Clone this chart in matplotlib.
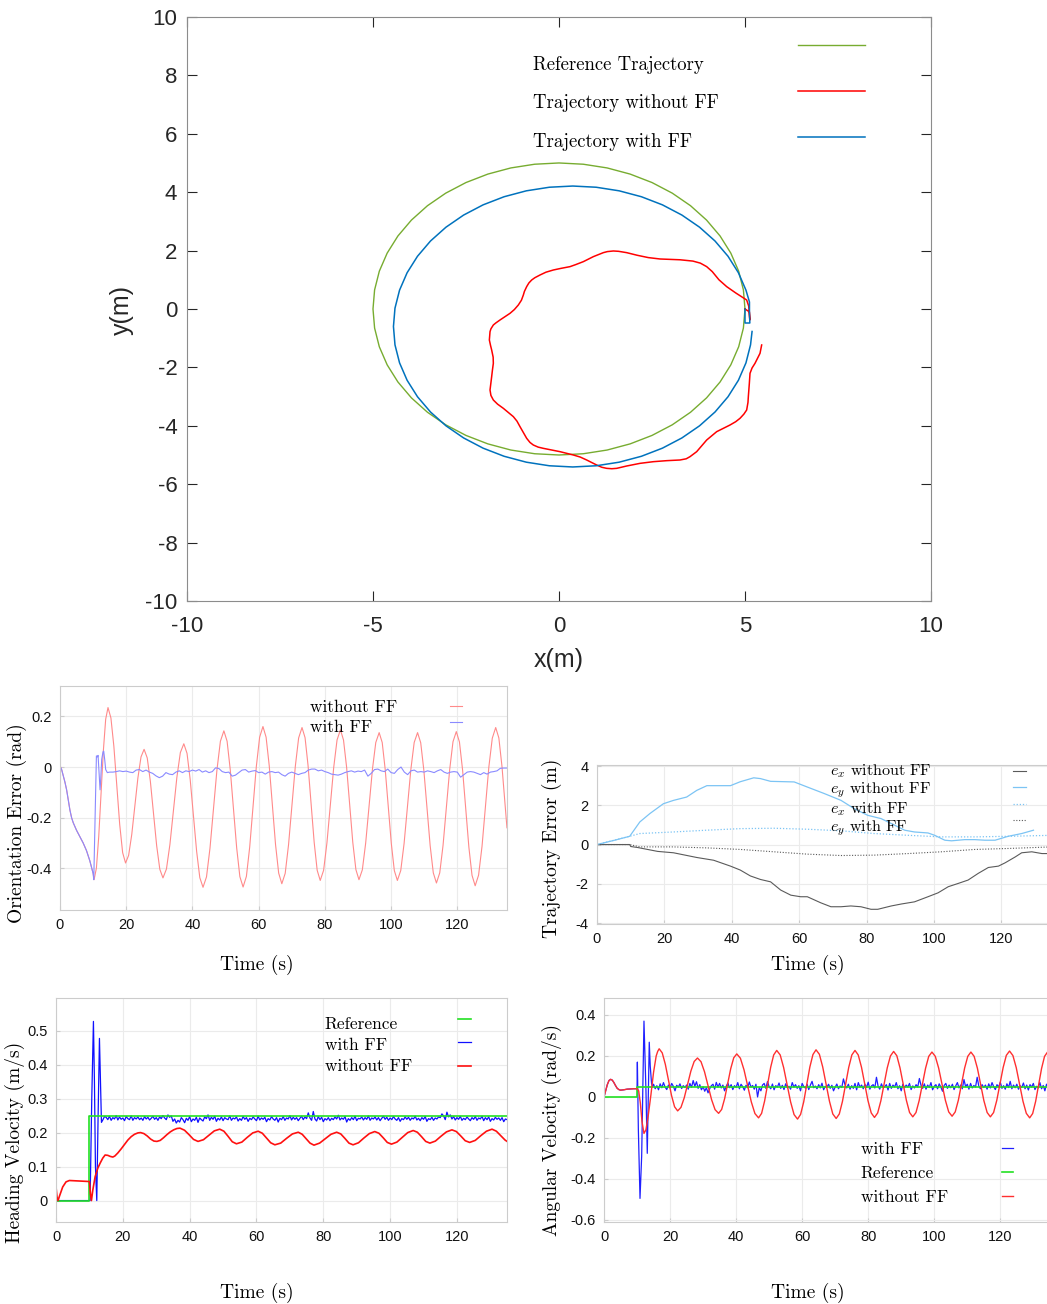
import numpy as np
import matplotlib
matplotlib.use("Agg")
import matplotlib.pyplot as plt

plt.rcParams["font.family"] = ["Liberation Sans", "DejaVu Sans"]
plt.rcParams["mathtext.fontset"] = "cm"
plt.rcParams["axes.unicode_minus"] = False

SERIF = "cmr10"

# ---------------- top: x-y trajectories (x, y) ----------------
ref_traj = [(5.0, 0.0), (4.957, 0.653), (4.83, 1.294), (4.619, 1.913), (4.33, 2.5), (3.967, 3.044),
            (3.536, 3.536), (3.044, 3.967), (2.5, 4.33), (1.913, 4.619), (1.294, 4.83), (0.653, 4.957),
            (0.0, 5.0), (-0.653, 4.957), (-1.294, 4.83), (-1.913, 4.619), (-2.5, 4.33), (-3.044, 3.967),
            (-3.536, 3.536), (-3.967, 3.044), (-4.33, 2.5), (-4.619, 1.913), (-4.83, 1.294), (-4.957, 0.653),
            (-5.0, 0.0), (-4.957, -0.653), (-4.83, -1.294), (-4.619, -1.913), (-4.33, -2.5), (-3.967, -3.044),
            (-3.536, -3.536), (-3.044, -3.967), (-2.5, -4.33), (-1.913, -4.619), (-1.294, -4.83),
            (-0.653, -4.957), (0.0, -5.0), (0.653, -4.957), (1.294, -4.83), (1.913, -4.619), (2.5, -4.33),
            (3.044, -3.967), (3.536, -3.536), (3.967, -3.044), (4.33, -2.5), (4.619, -1.913), (4.83, -1.294),
            (4.957, -0.653), (5.0, 0.0)]

noff_traj = [(5.0, 0.0), (5.12, -0.1), (5.13, -0.38), (5.1, 0.1), (5.045, 0.308), (4.75, 0.55), (4.508, 0.765),
             (4.3, 1.0), (4.12, 1.28), (3.97, 1.45), (3.8, 1.57), (3.6, 1.64), (3.253, 1.685), (2.716, 1.712),
             (2.4, 1.76), (2.1, 1.84), (1.819, 1.929), (1.6, 1.975), (1.461, 1.986), (1.3, 1.965),
             (1.192, 1.929), (0.923, 1.792), (0.655, 1.621), (0.45, 1.52), (0.296, 1.45), (0.05, 1.39),
             (-0.152, 1.335), (-0.35, 1.26), (-0.51, 1.164), (-0.65, 1.07), (-0.734, 0.993), (-0.81, 0.89),
             (-0.869, 0.765), (-0.93, 0.6), (-0.958, 0.479), (-1.01, 0.3), (-1.093, 0.137), (-1.2, -0.02),
             (-1.317, -0.149), (-1.586, -0.377), (-1.7, -0.48), (-1.765, -0.548), (-1.83, -0.68),
             (-1.854, -0.776), (-1.872, -1.062), (-1.84, -1.25), (-1.81, -1.404), (-1.77, -1.65),
             (-1.765, -1.861), (-1.79, -2.1), (-1.81, -2.318), (-1.854, -2.774), (-1.83, -2.96),
             (-1.765, -3.117), (-1.65, -3.26), (-1.496, -3.402), (-1.227, -3.687), (-1.13, -3.84),
             (-1.048, -4.03), (-0.869, -4.429), (-0.78, -4.57), (-0.69, -4.658), (-0.56, -4.73),
             (-0.421, -4.772), (0.027, -4.886), (0.386, -5.0), (0.57, -5.07), (0.744, -5.171),
             (1.013, -5.343), (1.15, -5.42), (1.282, -5.457), (1.42, -5.47), (1.551, -5.457),
             (1.819, -5.377), (2.178, -5.286), (2.536, -5.229), (2.895, -5.194), (3.253, -5.171),
             (3.42, -5.13), (3.522, -5.057), (3.701, -4.886), (3.97, -4.487), (4.239, -4.201),
             (4.597, -3.973), (4.75, -3.86), (4.866, -3.744), (4.97, -3.6), (5.045, -3.459),
             (5.08, -3.2), (5.09, -3.002), (5.117, -2.546), (5.135, -2.203), (5.19, -2.02),
             (5.269, -1.861), (5.404, -1.518), (5.448, -1.233)]

ff_traj = [(5.0, 0.0), (5.0, -0.48), (5.13, -0.48), (5.12, -0.1), (5.12, 0.24), (5.026, 0.645),
           (4.823, 1.241), (4.544, 1.805), (4.194, 2.328), (3.778, 2.801), (3.304, 3.216), (2.78, 3.566),
           (2.215, 3.844), (1.618, 4.046), (0.999, 4.169), (0.37, 4.21), (-0.259, 4.169), (-0.878, 4.046),
           (-1.475, 3.844), (-2.04, 3.566), (-2.564, 3.216), (-3.038, 2.801), (-3.454, 2.328),
           (-3.804, 1.805), (-4.083, 1.241), (-4.286, 0.645), (-4.409, 0.028), (-4.45, -0.6),
           (-4.409, -1.228), (-4.286, -1.845), (-4.083, -2.441), (-3.804, -3.005), (-3.454, -3.528),
           (-3.038, -4.001), (-2.564, -4.416), (-2.04, -4.766), (-1.475, -5.044), (-0.878, -5.246),
           (-0.259, -5.369), (0.37, -5.41), (0.999, -5.369), (1.618, -5.246), (2.215, -5.044),
           (2.78, -4.766), (3.304, -4.416), (3.778, -4.001), (4.194, -3.528), (4.544, -3.005),
           (4.823, -2.441), (5.026, -1.845), (5.149, -1.228), (5.19, -0.77)]

# ---------------- orientation error (t, rad) ----------------
oe_noff = [(0, 0.005), (0.5, -0.01), (1, -0.035), (1.5, -0.06), (2, -0.09), (2.5, -0.13), (3, -0.17),
           (3.5, -0.2), (4, -0.22), (5, -0.25), (6, -0.275), (7, -0.3), (8, -0.33), (9, -0.37),
           (10, -0.42), (10.3, -0.445), (11.0, -0.399), (11.7, -0.275), (12.4, -0.105), (13.1, 0.065),
           (13.8, 0.189), (14.5, 0.235),
           (15.38, 0.194), (16.27, 0.082), (17.15, -0.072), (18.03, -0.226), (18.92, -0.338), (19.8, -0.379),
           (20.73, -0.349), (21.67, -0.267), (22.6, -0.155), (23.53, -0.043), (24.47, 0.040), (25.4, 0.070),
           (26.35, 0.036), (27.3, -0.057), (28.25, -0.184), (29.2, -0.311), (30.15, -0.404), (31.1, -0.438),
           (32.15, -0.403), (33.2, -0.306), (34.25, -0.173), (35.3, -0.041), (36.35, 0.057), (37.4, 0.092),
           (38.37, 0.054), (39.33, -0.050), (40.3, -0.192), (41.27, -0.333), (42.23, -0.437), (43.2, -0.475),
           (44.25, -0.434), (45.3, -0.321), (46.35, -0.166), (47.4, -0.012), (48.45, 0.102), (49.5, 0.143),
           (50.47, 0.102), (51.43, -0.011), (52.4, -0.166), (53.37, -0.320), (54.33, -0.433), (55.3, -0.474),
           (56.3, -0.432), (57.3, -0.316), (58.3, -0.157), (59.3, 0.002), (60.3, 0.118), (61.3, 0.160),
           (62.25, 0.118), (63.2, 0.005), (64.15, -0.151), (65.1, -0.306), (66.05, -0.419), (67.0, -0.461),
           (68.02, -0.420), (69.03, -0.307), (70.05, -0.153), (71.07, 0.002), (72.08, 0.115), (73.1, 0.156),
           (74.02, 0.116), (74.93, 0.005), (75.85, -0.146), (76.77, -0.297), (77.68, -0.408), (78.6, -0.448),
           (79.62, -0.408), (80.63, -0.299), (81.65, -0.151), (82.67, -0.002), (83.68, 0.107), (84.7, 0.147),
           (85.63, 0.107), (86.57, -0.001), (87.5, -0.149), (88.43, -0.297), (89.37, -0.405), (90.3, -0.445),
           (91.32, -0.406), (92.33, -0.300), (93.35, -0.155), (94.37, -0.009), (95.38, 0.097), (96.4, 0.136),
           (97.32, 0.097), (98.23, -0.010), (99.15, -0.156), (100.07, -0.302), (100.98, -0.409), (101.9, -0.448),
           (102.92, -0.409), (103.93, -0.302), (104.95, -0.156), (105.97, -0.010), (106.98, 0.097), (108.0, 0.136),
           (108.95, 0.096), (109.9, -0.013), (110.85, -0.161), (111.8, -0.310), (112.75, -0.418), (113.7, -0.458),
           (114.7, -0.418), (115.7, -0.309), (116.7, -0.159), (117.7, -0.010), (118.7, 0.100), (119.7, 0.140),
           (120.65, 0.099), (121.6, -0.012), (122.55, -0.165), (123.5, -0.317), (124.45, -0.428), (125.4, -0.469),
           (126.43, -0.427), (127.47, -0.313), (128.5, -0.157), (129.53, 0.000), (130.57, 0.114), (131.6, 0.156),
           (132.55, 0.115), (133.5, 0.002), (134.45, -0.152), (135.0, -0.24)]

oe_ff_start = [(0, 0.005), (0.5, -0.01), (1, -0.035), (1.5, -0.06), (2, -0.09), (2.5, -0.13),
               (3, -0.17), (3.5, -0.2), (4, -0.22), (5, -0.25), (6, -0.275), (7, -0.3), (8, -0.33),
               (9, -0.37), (10, -0.42), (10.2, -0.445), (10.6, -0.2), (11.0, 0.044), (11.3, 0.04),
               (11.5, 0.046), (11.8, -0.02), (12.1, -0.09), (12.3, -0.05), (12.6, 0.03),
               (13.0, 0.06), (13.2, 0.063), (13.5, 0.03), (13.8, -0.01), (14.3, -0.022)]
# every 1 s from t = 15 s, in mrad
oe_ff_steady = [-20, -20, -18, -15, -18, -16, -20, -22, -12, -10,
                -18, -12, -20, -25, -35, -42, -36, -22, -28, -30,
                -20, -15, -22, -15, -18, -12, -16, -10, -20, -15,
                -22, -18, -3, -6, -18, -22, -20, -36, -32, -22,
                -12, -10, -20, -16, -14, -22, -20, -28, -20, -18,
                -22, -20, -30, -36, -25, -20, -25, -30, -25, -22,
                -12, -8, -8, -15, -12, -18, -22, -28, -30, -32,
                -28, -22, -18, -15, -20, -16, -18, -12, -36, -25,
                -10, -8, -15, -18, -8, -22, -25, -10, 0, -20,
                -30, -15, -12, -20, -18, -20, -15, -18, -22, -15,
                -10, -20, -25, -20, -18, -20, -40, -30, -20, -18,
                -20, -25, -30, -22, -28, -20, -18, -15, -5, -4,
                -4]

# ---------------- trajectory error (t, m) ----------------
ex_noff = [(0, 0), (9.7, 0), (10, -0.1), (12, -0.15), (15, -0.25), (18, -0.35), (22.7, -0.42),
           (29.6, -0.66), (34.6, -0.8), (39.6, -1.1), (42.5, -1.3), (45.5, -1.6), (48.5, -1.78),
           (51.5, -1.9), (54.5, -2.32), (57.5, -2.58), (60.4, -2.66), (62.4, -2.66), (66.4, -2.97),
           (69.4, -3.17), (72.4, -3.17), (75.3, -3.13), (78.3, -3.17), (81.3, -3.3), (83.3, -3.3),
           (87.3, -3.13), (90.3, -3.03), (94.2, -2.92), (98.2, -2.66), (101.2, -2.46),
           (104.2, -2.15), (107.2, -1.98), (110.1, -1.81), (113.1, -1.47), (116.1, -1.17),
           (119.1, -1.1), (121.1, -0.93), (124.1, -0.63), (126, -0.42), (129, -0.37),
           (132, -0.46), (135, -0.46)]
ey_noff = [(0, 0), (5, 0.21), (9.7, 0.42), (12.7, 1.15), (15.7, 1.58), (19.7, 2.08), (22.7, 2.25),
           (26.6, 2.42), (29.6, 2.76), (32.6, 3.0), (35, 3.0), (39.6, 3.0), (42.5, 3.2),
           (46.5, 3.4), (48.5, 3.36), (51.5, 3.22), (58.5, 3.19), (62.4, 2.93), (67.4, 2.6),
           (72.4, 2.25), (76.3, 1.83), (80.3, 1.49), (84.3, 1.32), (87.3, 1.07), (91.3, 0.73),
           (94.2, 0.64), (98.2, 0.59), (100.2, 0.47), (103.2, 0.22), (105.2, 0.19), (109.1, 0.25),
           (112.1, 0.25), (115.1, 0.22), (118.1, 0.22), (122, 0.42), (126, 0.56), (129.5, 0.73)]
ex_ff = [(0, 0), (9.7, 0.42), (12.7, 0.56), (22.6, 0.64), (32.5, 0.73), (42.5, 0.81), (52.5, 0.83),
         (62.4, 0.78), (72.4, 0.7), (82.3, 0.56), (92.3, 0.47), (102.2, 0.39), (112.1, 0.39),
         (122.1, 0.42), (135, 0.47)]
ey_ff = [(0, 0), (9.7, 0), (12.7, -0.12), (22.6, -0.12), (32.5, -0.17), (42.5, -0.25), (52.5, -0.37),
         (62.4, -0.49), (72.4, -0.56), (82.3, -0.54), (92.3, -0.46), (102.2, -0.37), (112.1, -0.25),
         (122.1, -0.2), (135, -0.12)]

# ---------------- heading velocity (t, m/s) ----------------
hv_ref = [(0, 0), (10, 0), (10, 0.25), (135, 0.25)]
hv_noff = [(0, 0.04), (0.3, 0.01), (0.6, 0.0), (1, 0.012), (2, 0.04), (3, 0.055), (4, 0.059),
           (6, 0.058), (8, 0.057), (10, 0.056), (10.3, 0.02), (10.6, 0.0), (11, 0.03), (11.7, 0.07),
           (12.5, 0.095), (13.2, 0.11), (14, 0.125), (14.7, 0.134), (15.5, 0.133), (16.2, 0.13),
           (17, 0.128), (17.6, 0.131), (18.5, 0.14), (19.5, 0.152), (20.5, 0.165), (21.5, 0.178),
           (22.5, 0.188), (23.5, 0.195), (24.5, 0.199), (25.3, 0.2), (26.3, 0.197), (27.3, 0.19),
           (28.3, 0.181), (29.3, 0.175), (30.2, 0.174), (31.2, 0.177), (32.2, 0.185), (33.2, 0.194),
           (34.2, 0.202), (35.2, 0.208), (36.2, 0.212), (37.1, 0.213),
           (38.45, 0.207), (39.8, 0.194), (41.15, 0.180), (42.5, 0.174),
           (44.13, 0.179), (45.75, 0.192), (47.38, 0.205), (49.0, 0.210),
           (50.25, 0.204), (51.5, 0.189), (52.75, 0.173), (54.0, 0.167),
           (55.63, 0.172), (57.25, 0.186), (58.88, 0.199), (60.5, 0.204),
           (61.75, 0.198), (63.0, 0.184), (64.25, 0.170), (65.5, 0.164),
           (67.25, 0.169), (69.0, 0.183), (70.75, 0.196), (72.5, 0.201),
           (73.68, 0.195), (74.85, 0.182), (76.03, 0.169), (77.2, 0.163),
           (78.9, 0.169), (80.6, 0.182), (82.3, 0.195), (84.0, 0.201),
           (85.23, 0.196), (86.45, 0.183), (87.68, 0.169), (88.9, 0.164),
           (90.53, 0.170), (92.15, 0.184), (93.78, 0.197), (95.4, 0.203),
           (96.65, 0.198), (97.9, 0.185), (99.15, 0.171), (100.4, 0.166),
           (102.03, 0.172), (103.65, 0.186), (105.28, 0.200), (106.9, 0.206),
           (108.15, 0.201), (109.4, 0.188), (110.65, 0.174), (111.9, 0.169),
           (113.55, 0.175), (115.2, 0.189), (116.85, 0.202), (118.5, 0.208),
           (119.83, 0.203), (121.15, 0.190), (122.48, 0.176), (123.8, 0.171),
           (125.48, 0.177), (127.15, 0.191), (128.83, 0.204), (130.5, 0.210),
           (131.8, 0.204), (133.1, 0.191), (134.4, 0.178), (135, 0.174)]
hv_ff_start = [(0, 0), (10.2, 0), (10.7, 0.3), (11.2, 0.527), (11.5, 0.35), (11.8, 0.1), (12.2, 0.0),
               (12.6, 0.25), (13.0, 0.477), (13.3, 0.35), (13.6, 0.23), (14.0, 0.237), (14.5, 0.247)]
# every 0.5 s from t = 15 s, in mm/s
hv_ff_steady = [245, 238, 248, 236, 244, 240, 250, 237, 246, 239, 243, 235, 247, 241, 238, 249, 236, 244, 240, 246,
                238, 243, 236, 247, 240, 245, 237, 242, 248, 239, 244, 236, 246, 241, 250, 243, 238, 252, 245, 249,
                233, 240, 228, 236, 231, 244, 238, 229, 242, 236, 247, 232, 240, 236, 245, 230, 243, 238, 234, 246,
                241, 252, 236, 245, 239, 248, 233, 242, 237, 246, 235, 244, 240, 238, 249, 236, 243, 240, 246, 234,
                241, 236, 247, 239, 244, 233, 242, 238, 246, 240, 235, 248, 237, 243, 239, 245, 232, 241, 237, 247,
                240, 236, 244, 231, 242, 238, 247, 236, 243, 240, 250, 237, 245, 239, 244, 235, 242, 248, 238, 246,
                241, 258, 243, 236, 262, 240, 234, 247, 238, 245, 232, 241, 237, 244, 235, 242, 238, 246, 240, 251,
                237, 243, 239, 247, 231, 241, 236, 244, 238, 248, 235, 242, 240, 246, 237, 244, 239, 249, 236, 243,
                240, 246, 237, 244, 235, 242, 248, 239, 245, 236, 243, 238, 247, 240, 236, 244, 233, 241, 238, 246,
                239, 245, 236, 243, 240, 248, 237, 242, 235, 244, 239, 247, 233, 241, 238, 245, 236, 243, 240, 246,
                244, 255, 249, 238, 260, 246, 252, 240, 247, 237, 244, 239, 248, 236, 242, 238, 246, 240, 235, 244,
                239, 247, 236, 243, 240, 248, 235, 244, 238, 246, 233, 241, 237, 245, 239, 243, 236, 244, 232, 240,
                238]

# ---------------- angular velocity (t, rad/s) ----------------
av_ref = [(0, 0), (10, 0), (10, 0.05), (135, 0.05)]
av_noff = [(0, 0), (0.5, 0.03), (1, 0.06), (1.5, 0.08), (2, 0.086), (2.5, 0.082), (3, 0.07), (3.5, 0.055),
           (4, 0.042), (4.5, 0.036), (5, 0.033), (6, 0.035), (7, 0.038), (8, 0.039), (9, 0.04),
           (10, 0.04), (10.5, 0.03), (11.0, -0.03), (11.5, -0.12), (12.1, -0.178), (12.7, -0.16),
           (13.4, -0.09), (14.2, 0.01), (15.0, 0.12), (15.8, 0.2), (16.25, 0.222), (16.7, 0.235),
           (17.63, 0.215), (18.57, 0.159), (19.5, 0.084), (20.43, 0.008), (21.37, -0.048), (22.3, -0.068),
           (23.3, -0.051), (24.3, -0.004), (25.3, 0.061), (26.3, 0.126), (27.3, 0.173), (28.3, 0.190),
           (29.37, 0.172), (30.43, 0.123), (31.5, 0.055), (32.57, -0.013), (33.63, -0.062), (34.7, -0.080),
           (35.62, -0.061), (36.53, -0.008), (37.45, 0.065), (38.37, 0.138), (39.28, 0.191), (40.2, 0.210),
           (41.3, 0.189), (42.4, 0.132), (43.5, 0.054), (44.6, -0.024), (45.7, -0.081), (46.8, -0.102),
           (47.72, -0.080), (48.63, -0.020), (49.55, 0.063), (50.47, 0.145), (51.38, 0.205), (52.3, 0.227),
           (53.35, 0.205), (54.4, 0.143), (55.45, 0.060), (56.5, -0.024), (57.55, -0.086), (58.6, -0.108),
           (59.53, -0.085), (60.47, -0.024), (61.4, 0.061), (62.33, 0.146), (63.27, 0.207), (64.2, 0.230),
           (65.22, 0.208), (66.23, 0.146), (67.25, 0.063), (68.27, -0.021), (69.28, -0.083), (70.3, -0.105),
           (71.25, -0.083), (72.2, -0.022), (73.15, 0.061), (74.1, 0.144), (75.05, 0.205), (76.0, 0.227),
           (76.98, 0.205), (77.97, 0.145), (78.95, 0.064), (79.93, -0.018), (80.92, -0.078), (81.9, -0.100),
           (82.87, -0.078), (83.83, -0.019), (84.8, 0.061), (85.77, 0.142), (86.73, 0.200), (87.7, 0.222),
           (88.67, 0.201), (89.63, 0.142), (90.6, 0.063), (91.57, -0.017), (92.53, -0.076), (93.5, -0.097),
           (94.47, -0.076), (95.43, -0.018), (96.4, 0.061), (97.37, 0.140), (98.33, 0.198), (99.3, 0.219),
           (100.32, 0.198), (101.33, 0.141), (102.35, 0.063), (103.37, -0.016), (104.38, -0.073), (105.4, -0.094),
           (106.35, -0.073), (107.3, -0.016), (108.25, 0.063), (109.2, 0.141), (110.15, 0.198), (111.1, 0.219),
           (112.08, 0.198), (113.07, 0.140), (114.05, 0.061), (115.03, -0.018), (116.02, -0.076), (117.0, -0.097),
           (117.97, -0.076), (118.93, -0.017), (119.9, 0.064), (120.87, 0.144), (121.83, 0.203), (122.8, 0.224),
           (123.82, 0.202), (124.83, 0.143), (125.85, 0.061), (126.87, -0.021), (127.88, -0.080), (128.9, -0.102),
           (129.8, -0.081), (130.7, -0.022), (131.6, 0.059), (132.5, 0.139), (133.4, 0.198), (134.3, 0.219),
           (135.0, 0.21)]
av_ff_start = [(0, 0), (0.5, 0.03), (1, 0.06), (1.5, 0.08), (2, 0.086), (2.5, 0.082), (3, 0.07),
               (3.5, 0.055), (4, 0.042), (4.5, 0.036), (5, 0.033), (6, 0.035), (7, 0.038), (8, 0.039),
               (9, 0.04), (10.0, 0.04), (10.1, 0.17), (10.4, -0.16), (10.9, -0.495), (11.4, -0.29),
               (11.8, 0.1), (12.1, 0.37), (12.5, 0.15), (12.7, 0.03), (13.1, -0.275), (13.4, 0.0),
               (13.7, 0.267), (14.0, 0.15), (14.4, 0.065), (14.7, 0.05)]
# every 0.5 s from t = 15 s, in mrad/s
av_ff_steady = [62, 40, 55, 35, 64, 45, 70, 48, 36, 58, 44, 66, 52, 30, 57, 48, 64, 41, 55, 46,
                58, 38, 66, 47, 80, 52, 74, 42, 60, 35, 50, 28, 45, 20, 40, 55, 62, 38, 71, 48,
                66, 44, 58, 30, 52, 68, 45, 60, 36, 55, 47, 70, 40, 62, 50, 33, 57, 45, 73, 48,
                56, 38, 62, 0, 45, 30, 58, 66, 42, 75, 50, 40, 63, 35, 55, 48, 68, 42, 57, 36,
                64, 45, 52, 38, 70, 48, 60, 42, 55, 30, 66, 50, 43, 62, 36, 58, 76, 45, 53, 40,
                60, 44, 67, 35, 52, 48, 62, 42, 57, 30, 48, 63, 40, 54, 46, 88, 58, 44, 62, 38,
                55, 42, 66, 35, 70, 48, 58, 40, 62, 46, 72, 38, 54, 60, 44, 96, 52, 38, 64, 45,
                50, 60, 34, 66, 42, 58, 48, 70, 40, 55, 30, 62, 45, 58, 48, 66, 36, 54, 44, 60,
                48, 90, 56, 42, 64, 38, 58, 46, 70, 35, 52, 60, 40, 64, 48, 28, 56, 66, 42, 58,
                45, 62, 36, 54, 70, 44, 58, 40, 85, 50, 62, 38, 66, 44, 56, 48, 96, 52, 40, 60,
                46, 58, 38, 64, 44, 70, 50, 36, 60, 48, 72, 42, 55, 38, 64, 46, 76, 40, 58, 45,
                62, 38, 55, 46, 68, 40, 58, 34, 60, 48, 66, 36, 52, 44, 70, 40, 56, 30, 62, 46,
                54]


def xy(pairs):
    a = np.array(pairs, dtype=float)
    return a[:, 0], a[:, 1]


def joined(start, steady, t0, dt, scale):
    ts, vs = xy(start)
    v2 = np.array(steady, dtype=float) / scale
    t2 = t0 + dt * np.arange(len(v2))
    return np.concatenate([ts, t2]), np.concatenate([vs, v2])


def split_legend(ax, handles, labels, size, text_at, text_ls, handle_at, handle_ls, hlen, hh=0.7):
    """labels left-aligned, line samples in their own column further right"""
    common = dict(loc="upper left", frameon=False, borderaxespad=0, borderpad=0,
                  prop={"family": SERIF, "size": size})
    leg = ax.legend(handles, labels, bbox_to_anchor=text_at, labelspacing=text_ls,
                    handlelength=0, handletextpad=0, handleheight=hh, **common)
    for h in leg.legend_handles:
        h.set_visible(False)
    ax.add_artist(leg)
    ax.legend(handles, [""] * len(handles), bbox_to_anchor=handle_at, labelspacing=handle_ls,
              handlelength=hlen, handletextpad=0, **common)


def style_small(ax, ylim, yticks, ylabels):
    ax.set_xlim(0, 135)
    ax.set_ylim(*ylim)
    ax.set_xticks(range(0, 121, 20))
    ax.set_yticks(yticks)
    ax.set_yticklabels(ylabels)
    ax.grid(True, color="#ebebeb", lw=0.8)
    ax.set_axisbelow(True)
    ax.tick_params(direction="in", length=3, color="#cccccc", labelsize=10.5, pad=6, labelcolor="#111111")
    for sp in ax.spines.values():
        sp.set_color("#cccccc")


fig = plt.figure(figsize=(10.47, 13.04), dpi=100)

# ======== top: trajectories ========
ax = fig.add_axes([0.1786, 0.5391, 0.7106, 0.4479])
x, y = xy(ref_traj)
h1, = ax.plot(x, y, color="#77ac30", lw=1.0)
x, y = xy(noff_traj)
h2, = ax.plot(x, y, color="#ff0000", lw=1.1)
x, y = xy(ff_traj)
h3, = ax.plot(x, y, color="#0072bd", lw=1.1)
ax.set_xlim(-10, 10)
ax.set_ylim(-10, 10)
ax.set_xticks([-10, -5, 0, 5, 10])
ax.set_yticks(range(-10, 11, 2))
ax.tick_params(axis="both", direction="in", length=7, width=0.8, color="#262626",
               top=True, right=True, labelsize=16, labelcolor="#262626")
ax.tick_params(axis="y", pad=7)
ax.tick_params(axis="x", pad=11)
for sp in ax.spines.values():
    sp.set_color("#8c8c8c")
ax.set_xlabel("x(m)", fontsize=18, color="#262626")
ax.set_ylabel("y(m)", fontsize=18, color="#262626")
ax.xaxis.set_label_coords(0.5, -0.08)
ax.yaxis.set_label_coords(-0.071, 0.498)
split_legend(ax, [h1, h2, h3], ["Reference Trajectory", "Trajectory without FF", "Trajectory with FF"],
             13.5, (0.465, 0.934), 1.1, (0.821, 0.964), 1.48, 3.6)

# ======== orientation error ========
axa = fig.add_axes([0.0573, 0.3021, 0.4269, 0.1718])
t, v = xy(oe_noff)
la, = axa.plot(t, v, color="#ff8a8a", lw=0.8)
t, v = joined(oe_ff_start, oe_ff_steady, 15, 1.0, 1000)
lb, = axa.plot(t, v, color="#8a8aff", lw=0.8)
style_small(axa, (-0.565, 0.32), [-0.4, -0.2, 0, 0.2], ["-0.4", "-0.2", "0", "0.2"])
axa.set_xlabel("Time (s)", fontfamily=SERIF, fontsize=14)
axa.set_ylabel("Orientation Error (rad)", fontfamily=SERIF, fontsize=14)
axa.xaxis.set_label_coords(0.44, -0.2)
axa.yaxis.set_label_coords(-0.074, 0.388)
split_legend(axa, [la, lb], ["without FF", "with FF"], 12.5,
             (0.559, 0.94), 0.28, (0.872, 0.94), 0.05, 0.7)

# ======== trajectory error ========
axb = fig.add_axes([0.5702, 0.2914, 0.4346, 0.1219])
t, v = xy(ex_noff)
l1, = axb.plot(t, v, color="#5a5a5a", lw=0.8)
t, v = xy(ey_noff)
l2, = axb.plot(t, v, color="#7cc4f4", lw=0.9)
t, v = xy(ex_ff)
l3, = axb.plot(t, v, color="#7cc4f4", lw=0.9, ls=(0, (1, 1.5)))
t, v = xy(ey_ff)
l4, = axb.plot(t, v, color="#5a5a5a", lw=0.8, ls=(0, (1, 1.5)))
style_small(axb, (-4.05, 4.05), [-4, -2, 0, 2, 4], ["-4", "-2", "0", "2", "4"])
axb.set_xlabel("Time (s)", fontfamily=SERIF, fontsize=14)
axb.set_ylabel("Trajectory Error (m)", fontfamily=SERIF, fontsize=14)
axb.xaxis.set_label_coords(0.464, -0.195)
axb.yaxis.set_label_coords(-0.077, 0.478)
split_legend(axb, [l1, l2, l3, l4],
             ["$e_x$ without FF", "$e_y$ without FF", "$e_x$ with FF", "$e_y$ with FF"], 11.5,
             (0.512, 1.02), 0.0, (0.914, 1.0), 0.15, 0.85, hh=1.15)

# ======== heading velocity ========
axc = fig.add_axes([0.0535, 0.0629, 0.4308, 0.1718])
t, v = joined(hv_ff_start, hv_ff_steady, 15, 0.5, 1000)
l_ff, = axc.plot(t, v, color="#1010ff", lw=0.9)
t, v = xy(hv_ref)
l_ref, = axc.plot(t, v, color="#22e022", lw=1.2)
t, v = xy(hv_noff)
l_noff, = axc.plot(t, v, color="#ff1010", lw=1.2)
style_small(axc, (-0.063, 0.596), [0, 0.1, 0.2, 0.3, 0.4, 0.5], ["0", "0.1", "0.2", "0.3", "0.4", "0.5"])
axc.set_xlabel("Time (s)", fontfamily=SERIF, fontsize=14)
axc.set_ylabel("Heading Velocity (m/s)", fontfamily=SERIF, fontsize=14)
axc.xaxis.set_label_coords(0.446, -0.272)
axc.yaxis.set_label_coords(-0.069, 0.357)
split_legend(axc, [l_ref, l_ff, l_noff], ["Reference", "with FF", "without FF"], 12.5,
             (0.596, 0.918), 0.33, (0.891, 0.936), 0.48, 0.75)

# ======== angular velocity ========
axd = fig.add_axes([0.5769, 0.0629, 0.4258, 0.1718])
t, v = joined(av_ff_start, av_ff_steady, 15, 0.5, 1000)
l_ff, = axd.plot(t, v, color="#2020ff", lw=0.9)
t, v = xy(av_ref)
l_ref, = axd.plot(t, v, color="#22e022", lw=1.2)
t, v = xy(av_noff)
l_noff, = axd.plot(t, v, color="#ff3030", lw=1.0)
style_small(axd, (-0.61, 0.483), [-0.6, -0.4, -0.2, 0, 0.2, 0.4],
            ["-0.6", "-0.4", "-0.2", "0", "0.2", "0.4"])
axd.set_xlabel("Time (s)", fontfamily=SERIF, fontsize=14)
axd.set_ylabel("Angular Velocity (rad/s)", fontfamily=SERIF, fontsize=14)
axd.xaxis.set_label_coords(0.457, -0.272)
axd.yaxis.set_label_coords(-0.094, 0.41)
split_legend(axd, [l_ff, l_ref, l_noff], ["with FF", "Reference", "without FF"], 12.5,
             (0.576, 0.36), 0.5, (0.892, 0.36), 0.5, 0.63)

fig.savefig("out.png", dpi=100)
